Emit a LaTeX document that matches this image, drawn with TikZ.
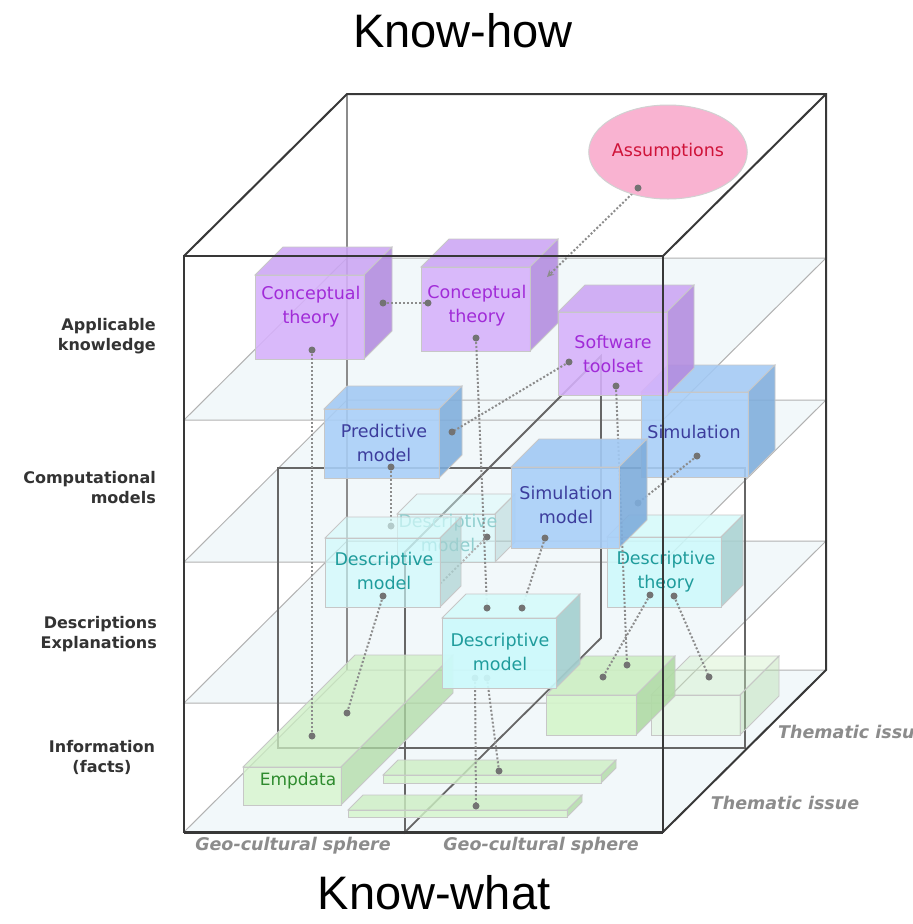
\documentclass[tikz,border=0pt]{standalone}
\usepackage{fontspec}
\setmainfont{DejaVu Sans}
\newfontfamily\arialfont{Liberation Sans}
\usetikzlibrary{shapes.geometric,arrows.meta}
\definecolor{planec}{HTML}{F2F8FA}
\definecolor{purf}{HTML}{D6B1FB}\definecolor{purt}{HTML}{CCA6F4}\definecolor{purs}{HTML}{B38BDF}\definecolor{purtext}{HTML}{A12BD8}
\definecolor{bluef}{HTML}{A9CFF8}\definecolor{bluet}{HTML}{A2C9F4}\definecolor{blues}{HTML}{7FADDC}\definecolor{bluetext}{HTML}{3C3C9C}
\definecolor{cyanf}{HTML}{CDFAFC}\definecolor{cyant}{HTML}{D6FBFB}\definecolor{cyans}{HTML}{A6D0D0}\definecolor{cyantext}{HTML}{1F9C9C}
\definecolor{greenf}{HTML}{D5F5CB}\definecolor{greent}{HTML}{CDEFC3}\definecolor{greens}{HTML}{B0DBA5}\definecolor{greentext}{HTML}{2E8B2E}
\definecolor{pinkc}{HTML}{F9B3D1}\definecolor{redtext}{HTML}{CF1339}
\newcommand{\cuboid}[9]{%
  \begin{scope}[fill opacity=#9,draw=black!22,line width=0.8pt]
  \filldraw[fill=#7] (#1,#2) -- ++(#5,-#5) -- ++(#3,0) -- ++(-#5,#5) -- cycle;
  \filldraw[fill=#8] (#1+#3,#2) -- ++(#5,-#5) -- ++(0,#4) -- ++(-#5,#5) -- cycle;
  \filldraw[fill=#6] (#1,#2) rectangle ++(#3,#4);
  \end{scope}}
\newcommand{\dotlink}[2]{\draw[link] (#1) -- (#2); \fill[dot] (#1) circle (3.5pt) (#2) circle (3.5pt);}
\begin{document}
\begin{tikzpicture}[x=1pt,y=-1pt,>=stealth,
  edge/.style={draw=black!78,line width=2pt},
  thin edge/.style={draw=black!30,line width=1pt},
  back edge/.style={draw=black!45,line width=1.2pt},
  inner edge/.style={draw=black!60,line width=1.8pt},
  link/.style={draw=black!45,line width=2pt,dash pattern=on 2pt off 2pt},
  dot/.style={fill=black!55},
  boxtext/.style={font=\fontsize{17.5}{24}\selectfont,align=center,inner sep=0pt},
  layer/.style={font=\bfseries\fontsize{16}{20}\selectfont,text=black!80,inner sep=0pt},
  axis/.style={font=\bfseries\itshape\fontsize{17.5}{20}\selectfont,text=black!45,inner sep=0pt}]
\useasboundingbox (0,0) rectangle (913,924);
\fill[white] (0,0) rectangle (913,924);
\foreach \y in {832,703,562,420}
  \fill[planec] (184,\y) -- (663,\y) -- (826,\y-162) -- (347,\y-162) -- cycle;
\foreach \y in {832,703,562,420}
  \draw[thin edge] (184,\y) -- (663,\y) -- (826,\y-162) -- (347,\y-162) -- cycle;
\draw[back edge] (347,94) -- (347,670);
\draw[inner edge] (278,468) rectangle (745,748);
\draw[inner edge] (405,832) -- (405,552) -- (601,356) -- (601,638) -- cycle;

\coordinate (ct1r) at (383,303); \coordinate (ct2l) at (428,303);
\coordinate (asmd) at (638,188); \coordinate (ct2a) at (547,277);
\coordinate (ct1d) at (312,350); \coordinate (empa) at (312,736);
\coordinate (ct2d) at (476,338); \coordinate (dmca) at (487,608);
\coordinate (stl) at (569,362); \coordinate (pmr) at (452,432);
\coordinate (std) at (616,386); \coordinate (gra) at (627,665);
\coordinate (dtl) at (650,595); \coordinate (grb) at (603,677);
\coordinate (dtr) at (674,596); \coordinate (gpa) at (709,677);
\coordinate (pmd) at (391,467); \coordinate (dmbu) at (391,526);
\coordinate (simd) at (697,456); \coordinate (smr) at (638,503);
\coordinate (smd) at (545,538); \coordinate (dmcb) at (522,608);
\coordinate (dmbr) at (487,537); \coordinate (dmlr) at (441,583);
\coordinate (dmld) at (383,596); \coordinate (empb) at (347,713);
\coordinate (dmcl) at (475,678); \coordinate (slbb) at (476,806);
\coordinate (dmcr) at (487,678); \coordinate (slba) at (499,771);

\cuboid{651}{695}{89}{40}{39}{greenf}{greent}{greens}{0.4}
\cuboid{546}{695}{90}{40}{39}{greenf}{greent}{greens}{0.9}
\cuboid{243}{767}{98}{38}{112}{greenf}{greent}{greens}{0.75}
\cuboid{383}{775}{218}{8}{15}{greenf}{greent}{greens}{0.8}
\cuboid{348}{810}{219}{7}{15}{greenf}{greent}{greens}{0.8}
\node[font=\fontsize{17}{20}\selectfont,text=greentext,inner sep=0pt] (emp) at (298,781) {Empdata};

\cuboid{641}{392}{107}{85}{27}{bluef}{bluet}{blues}{0.88}
\cuboid{558}{312}{109}{83}{27}{purf}{purt}{purs}{0.88}
\cuboid{421}{267}{109}{84}{28}{purf}{purt}{purs}{0.88}
\cuboid{255}{275}{109}{84}{28}{purf}{purt}{purs}{0.88}
\node[boxtext,text=bluetext] (sim) at (694,432) {Simulation};
\node[boxtext,text=purtext] (soft) at (613,354) {Software\\toolset};
\node[boxtext,text=purtext] (ctb) at (477,306) {Conceptual\\theory};
\node[boxtext,text=purtext] (cta) at (311,307) {Conceptual\\theory};
\dotlink{ct1r}{ct2l}
\dotlink{ct1d}{empa}
\draw[link,->] (asmd) -- (ct2a); \fill[dot] (asmd) circle (3.5pt);

\cuboid{324}{409}{115}{69}{23}{bluef}{bluet}{blues}{0.88}
\node[boxtext,text=bluetext] (pred) at (384,443) {Predictive\\model};
\dotlink{stl}{pmr}
\cuboid{397}{514}{98}{48}{20}{cyanf}{cyant}{cyans}{0.45}
\node[boxtext,text=cyantext!50] (dmb) at (448,533) {Descriptive\\model};
\dotlink{pmd}{dmbu}
\cuboid{607}{537}{114}{70}{22}{cyanf}{cyant}{cyans}{0.85}
\node[boxtext,text=cyantext] (dth) at (666,572) {Descriptive\\theory};
\dotlink{simd}{smr}
\dotlink{std}{gra}
\cuboid{511}{467}{108}{81}{28}{bluef}{bluet}{blues}{0.9}
\node[boxtext,text=bluetext] (simm) at (566,505) {Simulation\\model};
\dotlink{dtl}{grb}
\dotlink{dtr}{gpa}
\draw[link,draw=black!30] (dmbr) -- (dmlr);
\cuboid{325}{538}{115}{69}{21}{cyanf}{cyant}{cyans}{0.65}
\node[boxtext,text=cyantext] (dml) at (384,571) {Descriptive\\model};
\fill[dot] (dmbr) circle (3.5pt);
\dotlink{dmld}{empb}
\dotlink{dmcl}{slbb}
\dotlink{dmcr}{slba}
\dotlink{ct2d}{dmca}
\dotlink{smd}{dmcb}
\cuboid{442}{618}{114}{70}{24}{cyanf}{cyant}{cyans}{0.92}
\node[boxtext,text=cyantext] (dmc) at (500,652) {Descriptive\\model};
\fill[dot] (dmca) circle (3.5pt) (dmcb) circle (3.5pt);

\node[ellipse,fill=pinkc,draw=black!18,line width=1pt,minimum width=130pt,minimum height=94pt,inner sep=0pt,font=\fontsize{17.5}{20}\selectfont,text=redtext] (asm) at (668,152) {Assumptions};
\fill[dot] (asmd) circle (3.5pt);

\draw[edge] (184,256) rectangle (663,832);
\draw[edge] (184,256) -- (347,94) -- (826,94) -- (826,670) -- (663,832);
\draw[edge] (663,256) -- (826,94);
\draw[edge,line width=3pt] (184,832) -- (663,832);

\node[layer,anchor=east,align=right] (appl) at (156,336) {Applicable\\knowledge};
\node[layer,anchor=east,align=right] (comp) at (156,488) {Computational\\models};
\node[layer,anchor=east,align=right] (desc) at (157,634) {Descriptions\\Explanations};
\node[layer,align=center] (info) at (102,757) {Information\\(facts)};
\node[axis] (geoa) at (293,846) {Geo-cultural sphere};
\node[axis] (geob) at (541,846) {Geo-cultural sphere};
\node[axis] (thema) at (785,803) {Thematic issue};
\node[axis,anchor=west] (themb) at (778,732) {Thematic issue};
\node[font=\arialfont\fontsize{47}{50}\selectfont,inner sep=0pt] (how) at (463,31) {Know-how};
\node[font=\arialfont\fontsize{47}{50}\selectfont,inner sep=0pt] (what) at (434,893) {Know-what};
\end{tikzpicture}
\end{document}
